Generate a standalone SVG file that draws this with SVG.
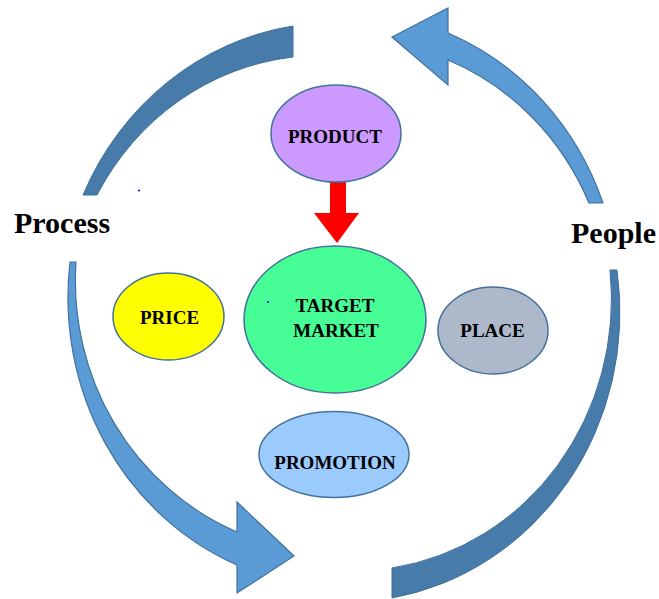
<svg xmlns="http://www.w3.org/2000/svg" width="659" height="599" viewBox="0 0 659 599">
<style>
.dark{fill:#477baa;stroke:#3f6f9c;stroke-width:1}
.light{fill:#5b9bd5;stroke:#41719c;stroke-width:1.2}
.node{stroke:#41719c;stroke-width:1.5}
.t{font-family:"Liberation Serif","Times New Roman",serif;font-weight:bold;font-size:19px;fill:#000;text-anchor:middle}
.lbl{font-family:"Liberation Serif","Times New Roman",serif;font-weight:bold;font-size:30px;fill:#000}
</style>
<rect width="659" height="599" fill="#fff"/>
<g id="connectors">
  <path id="arc-top-left" class="dark" d="M83,195 A275 290 0 0 1 293,26 L293,57 A255 268 0 0 0 97,195 Z"/>
  <path id="arrow-people" class="light" d="M392,37 L448,8 L448,33 A275 290 0 0 1 603,203 L589,203 A260 272 0 0 0 448,60 L448,85 Z"/>
  <path id="arrow-process" class="light" d="M70,262 A275 290 0 0 0 237,565 L237,593 L294,556 L237,502 L237,532 A262 272 0 0 1 76,262 Z"/>
  <path id="arc-bottom-right" class="dark" d="M617,270 A275 290 0 0 1 392,598 L392,568 A258 272 0 0 0 610,270 Z"/>
  <path id="arrow-product-target" fill="#ff0000" d="M330,181 L346,181 L346,213 L359,213 L337,243 L314,213 L330,213 Z"/>
</g>
<g id="product">
  <ellipse class="node" cx="336" cy="133.5" rx="65" ry="48.5" fill="#cc99ff"/>
  <text class="t" x="335" y="143">PRODUCT</text>
</g>
<g id="target-market">
  <ellipse class="node" cx="335" cy="319.5" rx="91" ry="73.5" fill="#47fd96"/>
  <text class="t" x="335" y="312">TARGET</text>
  <text class="t" x="336" y="337">MARKET</text>
</g>
<g id="price">
  <ellipse class="node" cx="168.5" cy="316.5" rx="55.5" ry="43.5" fill="#ffff00"/>
  <text class="t" x="169.5" y="324">PRICE</text>
</g>
<g id="place">
  <ellipse class="node" cx="493" cy="330.5" rx="55" ry="43.5" fill="#adb9ca"/>
  <text class="t" x="492.5" y="337">PLACE</text>
</g>
<g id="promotion">
  <ellipse class="node" cx="334" cy="454.5" rx="75" ry="43" fill="#9bcbfd"/>
  <text class="t" x="335" y="469">PROMOTION</text>
</g>
<g id="label-process">
  <text class="lbl" x="14" y="233">Process</text>
</g>
<g id="label-people">
  <text class="lbl" x="571" y="243">People</text>
</g>
<g id="dots" fill="#0000ff">
  <circle cx="139" cy="190.5" r="1"/>
  <circle cx="268" cy="302" r="1"/>
</g>
</svg>
